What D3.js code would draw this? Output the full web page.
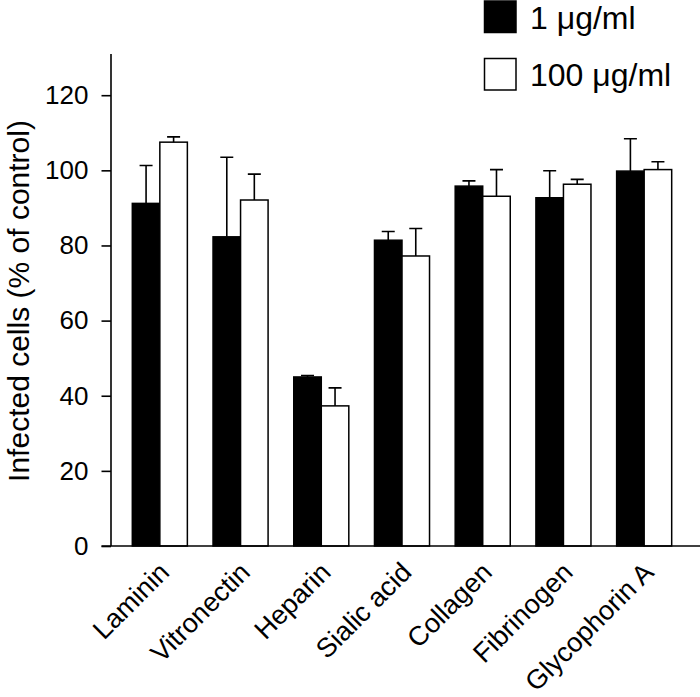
<!DOCTYPE html>
<html>
<head>
<meta charset="utf-8">
<script src="https://cdn.jsdelivr.net/npm/d3@7"></script>
<style>
  html, body { margin: 0; padding: 0; background: #fff; }
  svg { display: block; }
  text { font-family: "Liberation Sans", Arial, Helvetica, sans-serif; fill: #000; }
</style>
</head>
<body>
<svg id="chart" width="700" height="697"></svg>
<script>
// ---- Data ----
const categories = ["Laminin", "Vitronectin", "Heparin", "Sialic acid", "Collagen", "Fibrinogen", "Glycophorin A"];
const seriesNames = ["1 \u03bcg/ml", "100 \u03bcg/ml"];
const values1 = [91.2, 82.3, 45.0, 81.4, 95.8, 92.7, 99.8];
const errors1 = [10.1, 21.2, 0.4, 2.3, 1.4, 7.2, 8.6];
const values100 = [107.5, 92.1, 37.3, 77.2, 93.1, 96.3, 100.2];
const errors100 = [1.4, 6.9, 4.8, 7.3, 7.1, 1.3, 2.1];
const yTicks = [0, 20, 40, 60, 80, 100, 120];
const yLabel = "Infected cells (% of control)";

const svg = d3.select("#chart");
const fills = ["#000", "#fff"];

const y = d3.scaleLinear().domain([0, 120]).range([546, 95.2]);
const x = d3.scaleBand().domain(categories).range([111, 693]).paddingInner(0.318).paddingOuter(0.264);
const xs = d3.scaleBand().domain([0, 1]).range([0, x.bandwidth()]);

const rows = categories.map((c, i) => ({
  cat: c,
  bars: [
    { s: 0, v: values1[i], e: errors1[i] },
    { s: 1, v: values100[i], e: errors100[i] }
  ]
}));

// Bars
const g = svg.append("g");
const groups = g.selectAll("g.grp").data(rows).join("g")
  .attr("transform", d => `translate(${x(d.cat)},0)`);
groups.selectAll("rect").data(d => d.bars).join("rect")
  .attr("x", d => xs(d.s))
  .attr("y", d => y(d.v))
  .attr("width", xs.bandwidth())
  .attr("height", d => y(0) - y(d.v))
  .attr("fill", d => fills[d.s])
  .attr("stroke", "#000")
  .attr("stroke-width", 1.5);

// Error bars (upper only)
const capW = 13;
groups.selectAll("path.err").data(d => d.bars).join("path")
  .attr("class", "err")
  .attr("fill", "none")
  .attr("stroke", "#000")
  .attr("stroke-width", 1.6)
  .attr("d", d => {
    const cx = xs(d.s) + xs.bandwidth() / 2;
    const top = y(d.v + d.e);
    return `M${cx},${y(d.v)}V${top}M${cx - capW / 2},${top}H${cx + capW / 2}`;
  });

// Y axis
const yAxis = d3.axisLeft(y).tickValues(yTicks).tickSize(9.5).tickPadding(13).tickSizeOuter(0);
const yg = svg.append("g").attr("transform", "translate(111,0)").call(yAxis);
yg.attr("font-size", null).attr("font-family", null);
yg.select(".domain").remove();
yg.append("line").attr("x1", 0).attr("x2", 0).attr("y1", y(0)).attr("y2", y(131))
  .attr("stroke", "#000").attr("stroke-width", 1.6);
yg.selectAll(".tick line").attr("stroke", "#000").attr("stroke-width", 1.6);
yg.selectAll(".tick text").style("font-size", "26px").attr("fill", "#000");

// X axis baseline
svg.append("line").attr("x1", 101.5).attr("x2", 700).attr("y1", y(0)).attr("y2", y(0))
  .attr("stroke", "#000").attr("stroke-width", 1.6);

// X labels
svg.append("g").selectAll("text").data(categories).join("text")
  .attr("text-anchor", "end")
  .style("font-size", "27px")
  .attr("transform", d => `translate(${x(d) + x.bandwidth() / 2 + 11},${y(0) + 28}) rotate(-45)`)
  .text(d => d);

// Y label
svg.append("text")
  .attr("text-anchor", "middle")
  .style("font-size", "30px")
  .attr("transform", `translate(29,301) rotate(-90)`)
  .text(yLabel);

// Legend
const leg = svg.append("g");
seriesNames.forEach((name, i) => {
  const ly = 1 + i * 57.5;
  leg.append("rect").attr("x", 484.5).attr("y", ly).attr("width", 31.5).attr("height", 31.5)
    .attr("fill", fills[i]).attr("stroke", "#000").attr("stroke-width", 1.5);
  leg.append("text").attr("x", 530).attr("y", ly + 27.5).style("font-size", "32px").text(name);
});
</script>
</body>
</html>
